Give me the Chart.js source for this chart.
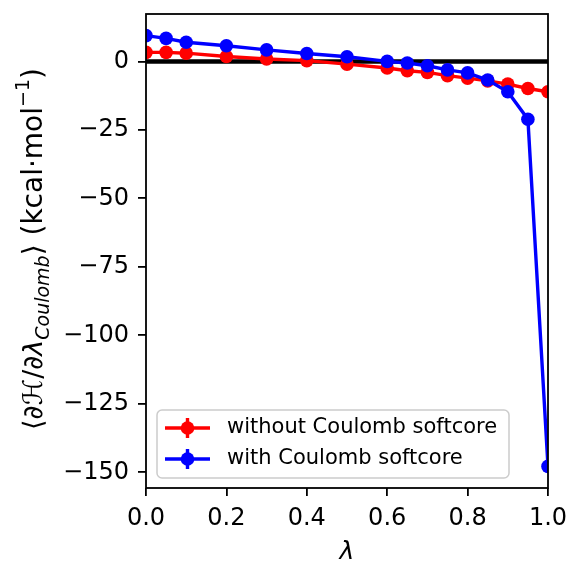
<!DOCTYPE html>
<html>
<head>
<meta charset="utf-8">
<script src="https://cdn.jsdelivr.net/npm/chart.js@4.4.1/dist/chart.umd.min.js"></script>
<style>
  html, body { margin: 0; padding: 0; background: #fff; }
  #chartBox { width: 573px; height: 567px; }
</style>
</head>
<body>
<div id="chartBox"><canvas id="dhdlChart" width="573" height="567"></canvas></div>
<script>
// lambda windows
const lambdas = [0, 0.05, 0.1, 0.2, 0.3, 0.4, 0.5, 0.6, 0.65, 0.7, 0.75, 0.8, 0.85, 0.9, 0.95, 1.0];
// <dH/dlambda> in kcal/mol
const sinSoftcore = [3.3, 3.3, 3.0, 1.8, 0.9, 0.3, -1.0, -2.4, -3.4, -4.0, -5.2, -6.1, -7.1, -8.3, -9.9, -11.1];
const conSoftcore = [9.4, 8.4, 7.0, 5.7, 4.2, 2.9, 1.7, 0.0, -0.6, -1.6, -3.1, -4.2, -6.8, -11.1, -21.1, -147.8];
const xTicks = [0, 0.2, 0.4, 0.6, 0.8, 1.0];
const yTicks = [0, -25, -50, -75, -100, -125, -150];
const etiquetas = ['without Coulomb softcore', 'with Coulomb softcore'];

const FUENTE = 'DejaVu Sans';

const puntos = (ys) => lambdas.map((x, i) => ({ x: x, y: ys[i] }));

// marco, leyenda y titulos de ejes
const extras = {
    id: 'extras',
    afterDatasetsDraw(chart) {
        const c = chart.ctx;
        const a = chart.chartArea;

        // recuadro
        c.save();
        c.strokeStyle = '#000';
        c.lineWidth = 1.8;
        c.strokeRect(a.left, a.top, a.right - a.left, a.bottom - a.top);
        c.restore();

        // leyenda
        const lx = 157, ly = 410, lw = 352, lh = 68;
        c.save();
        c.fillStyle = 'rgba(255,255,255,0.8)';
        c.strokeStyle = '#cccccc';
        c.lineWidth = 1.5;
        c.beginPath();
        c.roundRect(lx, ly, lw, lh, 5);
        c.fill();
        c.stroke();
        const series = chart.data.datasets.filter(d => d.enLeyenda);
        series.forEach((d, i) => {
            const cy = ly + 18 + i * 31;
            c.strokeStyle = d.borderColor;
            c.fillStyle = d.borderColor;
            c.lineWidth = 3.4;
            c.beginPath();
            c.moveTo(165, cy);
            c.lineTo(210, cy);
            c.moveTo(187.5, cy - 10);
            c.lineTo(187.5, cy + 10);
            c.stroke();
            c.beginPath();
            c.arc(187.5, cy, 6.8, 0, Math.PI * 2);
            c.fill();
            c.fillStyle = '#000';
            c.font = '21px "' + FUENTE + '"';
            c.textBaseline = 'middle';
            c.textAlign = 'left';
            c.fillText(d.label, 227, cy);
        });
        c.restore();

        // titulo eje x
        c.save();
        c.fillStyle = '#000';
        c.font = 'italic 25px "' + FUENTE + '"';
        c.textAlign = 'center';
        c.textBaseline = 'alphabetic';
        c.fillText('\u03bb', (a.left + a.right) / 2, 559);
        c.restore();

        // titulo eje y (texto mixto con subindice y superindice)
        const partes = [
            { t: '\u27e8\u2202\u210b/\u2202', f: '27px', dy: 0 },
            { t: '\u03bb', f: 'italic 27px', dy: 0 },
            { t: 'Coulomb', f: 'italic 19px', dy: 7 },
            { t: '\u27e9 (kcal\u00b7mol', f: '28px', dy: 0 },
            { t: '\u22121', f: '19px', dy: -13 },
            { t: ')', f: '28px', dy: 0 }
        ];
        c.save();
        c.fillStyle = '#000';
        c.textBaseline = 'alphabetic';
        c.textAlign = 'left';
        let total = 0;
        partes.forEach(p => {
            c.font = p.f + ' "' + FUENTE + '"';
            p.w = c.measureText(p.t).width;
            total += p.w;
        });
        c.translate(42, 249);
        c.rotate(-Math.PI / 2);
        let x = -total / 2;
        partes.forEach(p => {
            c.font = p.f + ' "' + FUENTE + '"';
            c.fillText(p.t, x, p.dy);
            x += p.w;
        });
        c.restore();
    }
};

const ctx = document.getElementById('dhdlChart').getContext('2d');
const dhdlChart = new Chart(ctx, {
    type: 'line',
    data: {
        datasets: [{
            label: 'cero',
            data: [{ x: 0, y: 0 }, { x: 1, y: 0 }],
            borderColor: '#000000',
            borderWidth: 4.5,
            pointRadius: 0,
            order: 3,
            enLeyenda: false
        }, {
            label: etiquetas[0],
            data: puntos(sinSoftcore),
            borderColor: '#ff0000',
            backgroundColor: '#ff0000',
            borderWidth: 3.4,
            pointRadius: 6.8,
            pointBorderWidth: 0,
            order: 2,
            enLeyenda: true
        }, {
            label: etiquetas[1],
            data: puntos(conSoftcore),
            borderColor: '#0000ff',
            backgroundColor: '#0000ff',
            borderWidth: 3.4,
            pointRadius: 6.8,
            pointBorderWidth: 0,
            order: 1,
            enLeyenda: true
        }]
    },
    options: {
        responsive: false,
        devicePixelRatio: 1,
        animation: false,
        layout: { padding: { left: 0, right: 25, top: 14, bottom: 0 } },
        plugins: {
            legend: { display: false },
            tooltip: { enabled: false }
        },
        scales: {
            x: {
                type: 'linear',
                min: 0,
                max: 1,
                afterFit: s => { s.height = 79; s.paddingLeft = 0; s.paddingRight = 0; },
                afterBuildTicks: s => { s.ticks = xTicks.map(v => ({ value: v })); },
                border: { display: false },
                grid: { drawOnChartArea: false, drawTicks: true, tickLength: 8, color: '#000', lineWidth: 1.8 },
                ticks: {
                    color: '#000',
                    padding: 8,
                    maxRotation: 0,
                    font: { family: FUENTE, size: 24 },
                    callback: v => v.toFixed(1)
                }
            },
            y: {
                type: 'linear',
                min: -155.7,
                max: 17.3,
                afterFit: s => { s.width = 146; s.paddingTop = 0; s.paddingBottom = 0; },
                afterBuildTicks: s => { s.ticks = yTicks.map(v => ({ value: v })); },
                border: { display: false },
                grid: { drawOnChartArea: false, drawTicks: true, tickLength: 8, color: '#000', lineWidth: 1.8 },
                ticks: {
                    color: '#000',
                    padding: 9,
                    font: { family: FUENTE, size: 24 },
                    callback: v => v < 0 ? '\u2212' + Math.abs(v) : String(v)
                }
            }
        }
    },
    plugins: [extras]
});
</script>
</body>
</html>
